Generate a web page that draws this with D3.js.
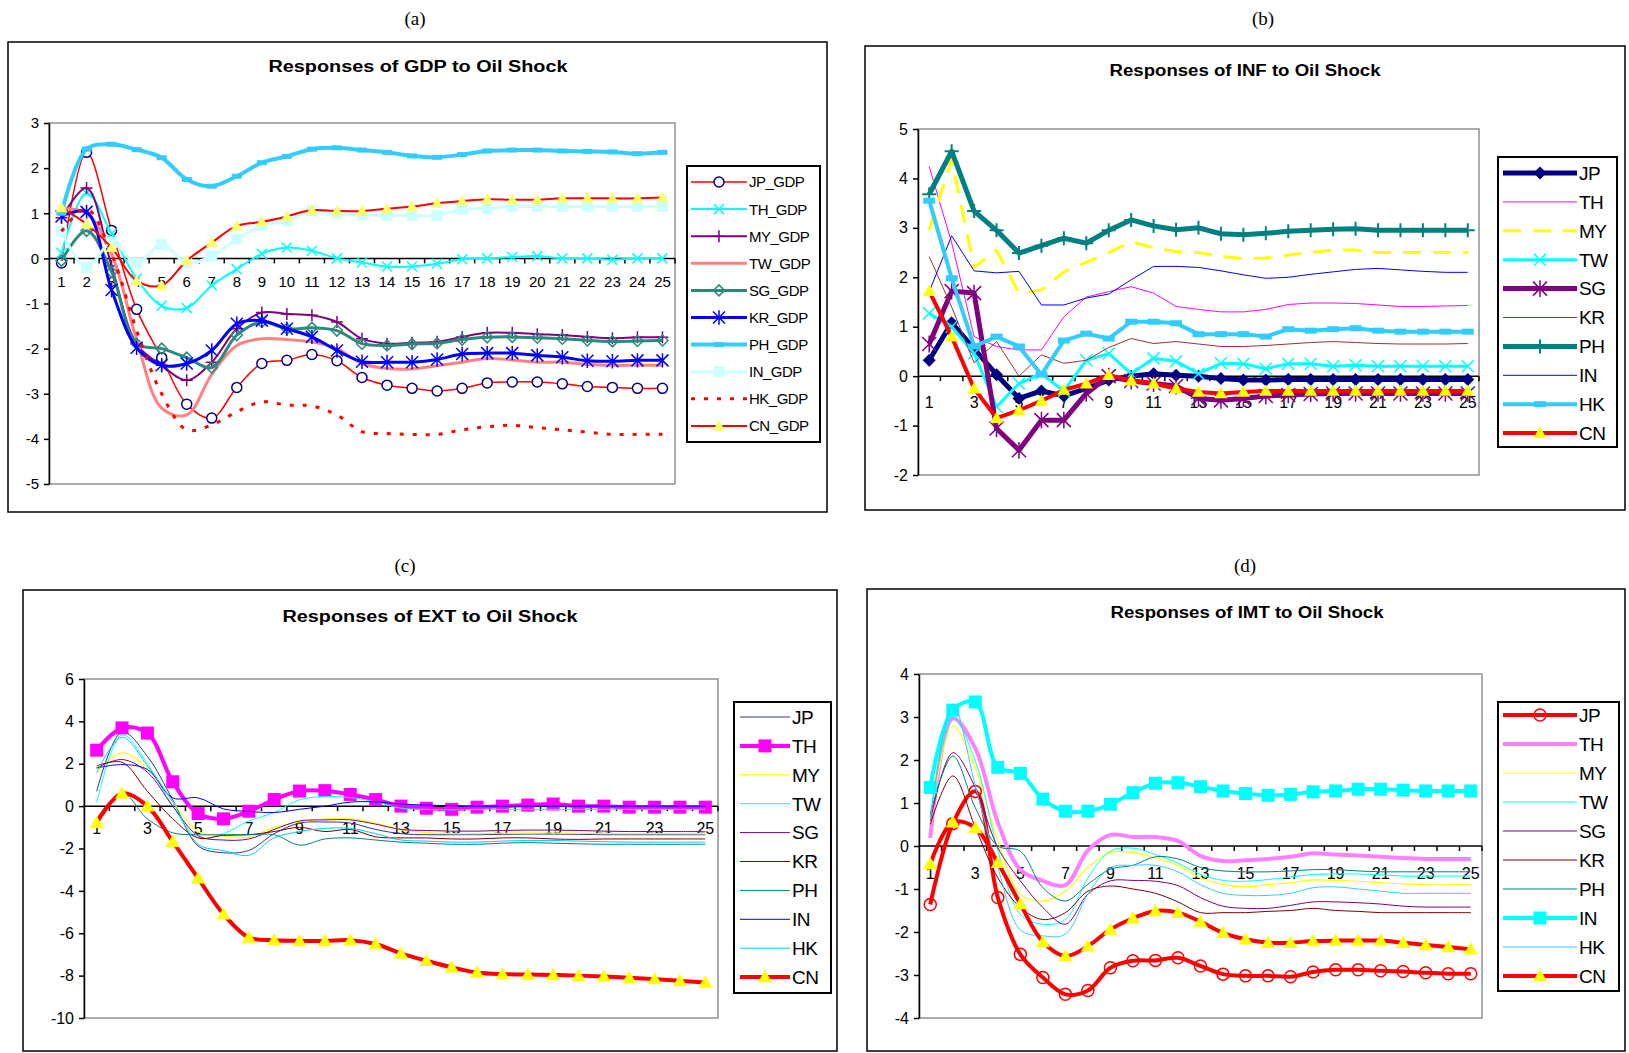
<!DOCTYPE html>
<html>
<head>
<meta charset="utf-8">
<script src="https://cdn.jsdelivr.net/npm/d3@7"></script>
<style>
  body { margin: 0; background: #fff; }
  text { font-family: "Liberation Sans", Arial, sans-serif; fill: #000; }
</style>
</head>
<body>
<svg width="1629" height="1053"></svg>
<script>

const periods = d3.range(1, 26)
const countries = ["JP", "TH", "MY", "TW", "SG", "KR", "PH", "IN", "HK", "CN"]

// (a) GDP responses
const gdpJP = [-0.1, 2.35, 0.62, -1.13, -2.2, -3.23, -3.54, -2.86, -2.33, -2.26, -2.13, -2.27, -2.64, -2.81, -2.88, -2.94, -2.88, -2.76, -2.74, -2.74, -2.78, -2.84, -2.86, -2.88, -2.88]
const gdpTH = [0.12, 1.45, 0.55, -0.45, -1.05, -1.1, -0.6, -0.24, 0.1, 0.24, 0.17, 0.0, -0.09, -0.18, -0.18, -0.12, -0.02, 0.0, 0.03, 0.05, 0.0, 0.0, -0.03, 0.0, 0.0]
const gdpMY = [0.9, 1.56, -0.17, -1.9, -2.37, -2.7, -2.3, -1.56, -1.2, -1.23, -1.26, -1.41, -1.78, -1.89, -1.87, -1.85, -1.74, -1.65, -1.65, -1.68, -1.7, -1.74, -1.77, -1.75, -1.75]
const gdpTW = [1.1, 1.0, 0.1, -1.8, -3.32, -3.47, -2.57, -1.93, -1.78, -1.8, -1.85, -2.0, -2.33, -2.44, -2.45, -2.38, -2.3, -2.22, -2.25, -2.3, -2.3, -2.35, -2.37, -2.37, -2.37]
const gdpSG = [-0.05, 0.61, -0.3, -1.89, -2.0, -2.2, -2.42, -1.7, -1.41, -1.56, -1.54, -1.6, -1.89, -1.93, -1.9, -1.88, -1.8, -1.75, -1.74, -1.76, -1.78, -1.82, -1.84, -1.83, -1.82]
const gdpKR = [0.93, 1.03, -0.7, -1.98, -2.37, -2.33, -2.04, -1.45, -1.38, -1.56, -1.74, -2.04, -2.29, -2.3, -2.3, -2.24, -2.12, -2.1, -2.1, -2.15, -2.19, -2.27, -2.28, -2.26, -2.26]
const gdpPH = [1.0, 2.42, 2.53, 2.41, 2.23, 1.75, 1.6, 1.82, 2.12, 2.26, 2.42, 2.45, 2.4, 2.35, 2.27, 2.24, 2.3, 2.38, 2.4, 2.4, 2.38, 2.37, 2.36, 2.32, 2.35]
const gdpIN = [0.6, -0.2, 0.35, -0.1, 0.31, -0.1, 0.05, 0.43, 0.72, 0.83, 1.05, 1.0, 0.96, 0.95, 0.95, 0.95, 1.09, 1.1, 1.15, 1.15, 1.15, 1.15, 1.15, 1.15, 1.15]
const gdpHK = [0.6, 1.1, 0.1, -1.6, -3.0, -3.8, -3.69, -3.4, -3.18, -3.25, -3.27, -3.47, -3.84, -3.88, -3.9, -3.9, -3.8, -3.73, -3.7, -3.75, -3.8, -3.85, -3.9, -3.9, -3.9]
const gdpCN = [1.12, 0.76, 0.24, -0.5, -0.6, -0.05, 0.35, 0.72, 0.81, 0.93, 1.07, 1.05, 1.05, 1.1, 1.15, 1.22, 1.27, 1.31, 1.3, 1.3, 1.33, 1.33, 1.33, 1.33, 1.35]

// (b) INF responses
const infJP = [0.32, 1.08, 0.55, 0.03, -0.45, -0.3, -0.4, -0.25, -0.08, 0.0, 0.05, 0.02, 0.0, -0.05, -0.08, -0.08, -0.07, -0.07, -0.07, -0.07, -0.07, -0.07, -0.07, -0.07, -0.07]
const infTH = [4.24, 2.7, 0.8, 0.6, 0.53, 0.53, 1.2, 1.6, 1.71, 1.81, 1.68, 1.41, 1.35, 1.3, 1.3, 1.35, 1.45, 1.48, 1.48, 1.47, 1.44, 1.41, 1.41, 1.42, 1.43]
const infMY = [2.96, 4.38, 2.2, 2.55, 1.68, 1.74, 2.11, 2.3, 2.5, 2.72, 2.6, 2.52, 2.5, 2.42, 2.38, 2.39, 2.45, 2.5, 2.55, 2.55, 2.5, 2.5, 2.5, 2.5, 2.5]
const infTW = [1.27, 1.0, 0.46, -0.62, -0.15, 0.05, -0.3, 0.32, 0.46, 0.05, 0.36, 0.3, 0.05, 0.26, 0.25, 0.15, 0.25, 0.25, 0.2, 0.22, 0.2, 0.2, 0.2, 0.2, 0.2]
const infSG = [0.65, 1.72, 1.68, -1.06, -1.5, -0.89, -0.89, -0.35, 0.0, -0.1, -0.15, -0.2, -0.45, -0.49, -0.45, -0.4, -0.38, -0.36, -0.35, -0.35, -0.35, -0.35, -0.35, -0.35, -0.35]
const infKR = [2.42, 1.4, 0.27, 0.7, 0.0, 0.43, 0.26, 0.32, 0.58, 0.76, 0.66, 0.7, 0.65, 0.6, 0.6, 0.62, 0.65, 0.68, 0.7, 0.68, 0.66, 0.65, 0.65, 0.65, 0.66]
const infPH = [3.68, 4.55, 3.34, 2.95, 2.49, 2.64, 2.79, 2.69, 2.95, 3.16, 3.04, 2.96, 3.0, 2.88, 2.86, 2.89, 2.93, 2.95, 2.97, 2.98, 2.95, 2.95, 2.95, 2.95, 2.95]
const infIN = [1.71, 2.84, 2.13, 2.09, 2.12, 1.44, 1.44, 1.58, 1.66, 1.95, 2.22, 2.22, 2.2, 2.13, 2.05, 1.98, 2.0, 2.06, 2.11, 2.16, 2.18, 2.15, 2.12, 2.1, 2.1]
const infHK = [3.55, 1.98, 0.6, 0.8, 0.6, 0.03, 0.72, 0.86, 0.76, 1.1, 1.1, 1.07, 0.85, 0.85, 0.85, 0.8, 0.95, 0.92, 0.95, 0.97, 0.92, 0.9, 0.9, 0.9, 0.9]
const infCN = [1.72, 0.8, -0.25, -0.85, -0.69, -0.5, -0.28, -0.15, 0.02, -0.09, -0.15, -0.25, -0.32, -0.35, -0.32, -0.3, -0.3, -0.3, -0.3, -0.3, -0.3, -0.3, -0.3, -0.3, -0.3]

// (c) EXT responses
const extJP = [0.7, 3.5, 2.35, 0.3, -1.88, -2.2, -2.09, -1.3, -0.8, -0.75, -0.8, -1.1, -1.3, -1.35, -1.35, -1.35, -1.33, -1.32, -1.32, -1.33, -1.35, -1.35, -1.35, -1.35, -1.35]
const extTH = [2.64, 3.69, 3.45, 1.15, -0.35, -0.6, -0.24, 0.31, 0.71, 0.73, 0.55, 0.31, 0.0, -0.1, -0.15, -0.05, 0.0, 0.05, 0.1, 0.0, 0.0, -0.05, -0.05, -0.05, -0.05]
const extMY = [1.6, 2.51, 1.8, 0.2, -1.2, -1.4, -1.46, -1.0, -0.75, -0.6, -0.6, -0.8, -1.1, -1.25, -1.3, -1.3, -1.28, -1.27, -1.27, -1.28, -1.3, -1.3, -1.3, -1.3, -1.3]
const extTW = [0.16, 3.37, 2.0, 0.0, -1.5, -1.3, -0.7, -0.3, 0.3, 0.45, 0.4, 0.2, -0.1, -0.15, -0.18, -0.15, -0.15, -0.15, -0.15, -0.15, -0.15, -0.15, -0.15, -0.15, -0.15]
const extSG = [1.8, 2.2, 1.6, 0.0, -1.4, -1.6, -1.55, -1.1, -0.7, -0.65, -0.65, -0.85, -1.1, -1.15, -1.18, -1.18, -1.15, -1.13, -1.13, -1.15, -1.18, -1.2, -1.2, -1.2, -1.2]
const extKR = [1.9, 2.07, 0.7, -0.6, -1.5, -1.38, -1.35, -1.2, -1.0, -1.2, -1.1, -1.45, -1.5, -1.5, -1.55, -1.55, -1.5, -1.5, -1.55, -1.57, -1.55, -1.55, -1.55, -1.55, -1.55]
const extPH = [-0.6, 0.63, -0.6, -1.26, -1.35, -1.35, -1.35, -1.35, -1.84, -1.55, -1.5, -1.6, -1.7, -1.75, -1.8, -1.8, -1.75, -1.72, -1.75, -1.78, -1.8, -1.8, -1.8, -1.8, -1.8]
const extIN = [1.8, 1.96, 1.73, 0.39, 0.39, -0.13, -0.25, -0.3, -0.15, 0.0, 0.19, 0.2, 0.1, 0.05, 0.02, 0.0, 0.0, 0.0, 0.0, 0.0, 0.0, 0.0, 0.0, 0.0, 0.0]
const extHK = [1.57, 3.25, 1.9, 0.2, -1.8, -2.1, -2.32, -1.5, -1.2, -1.05, -1.05, -1.3, -1.6, -1.65, -1.7, -1.7, -1.65, -1.62, -1.62, -1.65, -1.68, -1.7, -1.7, -1.7, -1.7]
const extCN = [-0.78, 0.6, 0.0, -1.68, -3.41, -5.1, -6.2, -6.33, -6.36, -6.36, -6.33, -6.51, -6.95, -7.3, -7.61, -7.85, -7.93, -7.95, -7.97, -8.0, -8.04, -8.1, -8.16, -8.25, -8.32]

// (d) IMT responses
const imtJP = [-1.36, 0.52, 1.27, -1.2, -2.52, -3.06, -3.45, -3.36, -2.83, -2.67, -2.66, -2.6, -2.79, -2.98, -3.02, -3.02, -3.04, -2.93, -2.88, -2.88, -2.9, -2.92, -2.95, -2.97, -2.97]
const imtTH = [0.19, 2.97, 2.27, 0.55, -0.55, -0.81, -0.91, -0.1, 0.26, 0.21, 0.21, 0.12, -0.23, -0.35, -0.33, -0.3, -0.25, -0.17, -0.2, -0.22, -0.25, -0.28, -0.3, -0.3, -0.3]
const imtMY = [0.5, 2.79, 1.82, 0.12, -1.12, -1.28, -1.05, -0.5, -0.15, -0.15, -0.28, -0.45, -0.74, -0.9, -0.95, -0.9, -0.85, -0.79, -0.8, -0.82, -0.85, -0.88, -0.9, -0.9, -0.9]
const imtTW = [0.7, 2.98, 1.98, -0.1, -1.59, -1.82, -1.71, -0.74, -0.12, -0.05, -0.2, -0.4, -0.66, -0.8, -0.82, -0.78, -0.72, -0.66, -0.65, -0.65, -0.67, -0.7, -0.7, -0.7, -0.7]
const imtSG = [0.58, 2.17, 1.36, -0.04, -0.81, -1.43, -1.82, -1.12, -0.81, -0.8, -0.82, -0.92, -1.2, -1.4, -1.45, -1.45, -1.38, -1.3, -1.3, -1.32, -1.35, -1.4, -1.42, -1.42, -1.42]
const imtKR = [0.5, 1.63, 0.43, -0.74, -1.43, -1.71, -1.55, -1.05, -0.93, -1.0, -1.1, -1.3, -1.55, -1.55, -1.55, -1.52, -1.5, -1.45, -1.5, -1.52, -1.55, -1.55, -1.55, -1.55, -1.55]
const imtPH = [0.74, 2.09, 0.89, 0.0, -0.12, -0.97, -1.28, -0.89, -0.54, -0.45, -0.25, -0.3, -0.5, -0.58, -0.6, -0.6, -0.58, -0.55, -0.55, -0.58, -0.6, -0.6, -0.6, -0.6, -0.6]
const imtIN = [1.36, 3.16, 3.35, 1.83, 1.69, 1.09, 0.81, 0.81, 0.97, 1.24, 1.46, 1.47, 1.38, 1.28, 1.22, 1.18, 1.2, 1.26, 1.28, 1.32, 1.32, 1.3, 1.28, 1.28, 1.28]
const imtHK = [0.6, 3.3, 1.4, -0.5, -1.95, -2.09, -2.05, -1.12, -0.5, -0.45, -0.45, -0.6, -0.9, -1.1, -1.15, -1.15, -1.1, -0.97, -0.95, -1.0, -1.05, -1.1, -1.1, -1.1, -1.1]
const imtCN = [-0.42, 0.55, 0.42, -0.39, -1.35, -2.23, -2.56, -2.33, -1.94, -1.68, -1.51, -1.55, -1.76, -2.02, -2.17, -2.25, -2.25, -2.21, -2.2, -2.2, -2.2, -2.25, -2.3, -2.35, -2.4]

const gdpTicks = d3.range(-5, 4)
const infTicks = d3.range(-2, 6)
const extTicks = d3.range(-10, 7, 2)
const imtTicks = d3.range(-4, 5)


// series look, in legend order
const gdpLook = [
    {color: "#FF0000", w: 1.5, marker: "circle", ms: 5, mstroke: "#000080", mfill: "#fff", mw: 1.5},
    {color: "#00FFFF", w: 2, marker: "x", ms: 5, mstroke: "#00FFFF", mw: 1.5},
    {color: "#800080", w: 2, marker: "plus", ms: 6, mstroke: "#800080", mw: 1.5},
    {color: "#FF8080", w: 3},
    {color: "#2A8A7E", w: 3, marker: "diamond", ms: 5.5, mstroke: "#2A8A7E", mfill: "none", mw: 1.5},
    {color: "#0000FF", w: 3, marker: "star", ms: 6, mstroke: "#0000FF", mw: 1.5},
    {color: "#33CCFF", w: 4, marker: "dash", ms: 5, mstroke: "#33CCFF", mw: 5},
    {color: "#CCFFFF", w: 3, marker: "square", ms: 5.5, mfill: "#CCFFFF"},
    {color: "#FF0000", w: 3, dash: "4,9"},
    {color: "#FF0000", w: 2, marker: "triangle", ms: 6, mfill: "#FFFF66"}
]
const infLook = [
    {color: "#000080", w: 5, marker: "diamond", ms: 6.5, mfill: "#000080"},
    {color: "#FF00FF", w: 1},
    {color: "#FFFF00", w: 3, dash: "18,12"},
    {color: "#00FFFF", w: 3, marker: "x", ms: 6, mstroke: "#00FFFF", mw: 1.5},
    {color: "#800080", w: 5, marker: "star", ms: 7, mstroke: "#800080", mw: 1.5},
    {color: "#993333", w: 1},
    {color: "#008080", w: 5, marker: "plus", ms: 7, mstroke: "#008080", mw: 2},
    {color: "#0000FF", w: 1},
    {color: "#33CCFF", w: 4, marker: "dash", ms: 6, mstroke: "#33CCFF", mw: 6},
    {color: "#FF0000", w: 4, marker: "triangle", ms: 6.5, mfill: "#FFFF00"}
]
const extLook = [
    {color: "#333399", w: 1},
    {color: "#FF00FF", w: 4, marker: "square", ms: 6.5, mfill: "#FF00FF"},
    {color: "#FFFF00", w: 1.2},
    {color: "#00FFFF", w: 1},
    {color: "#800080", w: 1},
    {color: "#800000", w: 1},
    {color: "#008080", w: 1},
    {color: "#0000FF", w: 1},
    {color: "#00CCFF", w: 1},
    {color: "#FF0000", w: 4, marker: "triangle", ms: 7, mfill: "#FFFF00"}
]
const imtLook = [
    {color: "#FF0000", w: 4, marker: "circle", ms: 6, mstroke: "#FF0000", mfill: "none", mw: 1.5},
    {color: "#FF80FF", w: 4},
    {color: "#FFFF00", w: 1.2},
    {color: "#00FFFF", w: 1},
    {color: "#800080", w: 1},
    {color: "#800000", w: 1},
    {color: "#008080", w: 1},
    {color: "#00FFFF", w: 4, marker: "square", ms: 6.5, mfill: "#00FFFF"},
    {color: "#33CCFF", w: 1},
    {color: "#FF0000", w: 4, marker: "triangle", ms: 7, mfill: "#FFFF00"}
]

const smooth = d3.curveCatmullRom.alpha(0.5)

let panels = [
    {label: "(a)", labelPos: [415, 25], frame: [8, 42, 827, 512], plot: [49, 123, 675, 484],
     domain: [-5, 3], ticks: gdpTicks, title: "Responses of GDP to Oil Shock", titlePos: [418, 72, 299],
     values: [gdpJP, gdpTH, gdpMY, gdpTW, gdpSG, gdpKR, gdpPH, gdpIN, gdpHK, gdpCN], look: gdpLook, suffix: "_GDP",
     legend: {box: [687, 166, 820, 442], row0: 182, step: 27.1, line: [691, 747], font: 15},
     xDy: 29, every: 1, curve: smooth, fs: 15},
    {label: "(b)", labelPos: [1263, 25], frame: [865, 46, 1625, 510], plot: [918, 129, 1479, 475],
     domain: [-2, 5], ticks: infTicks, title: "Responses of INF to Oil Shock", titlePos: [1245, 76, 271],
     values: [infJP, infTH, infMY, infTW, infSG, infKR, infPH, infIN, infHK, infCN], look: infLook, suffix: "",
     legend: {box: [1498, 157, 1617, 447], row0: 173, step: 28.9, line: [1503, 1577], font: 19},
     xDy: 32, every: 2, curve: d3.curveLinear, fs: 16},
    {label: "(c)", labelPos: [405, 572], frame: [23, 590, 837, 1051], plot: [84, 679, 718, 1018],
     domain: [-10, 6], ticks: extTicks, title: "Responses of EXT to Oil Shock", titlePos: [430, 622, 295],
     values: [extJP, extTH, extMY, extTW, extSG, extKR, extPH, extIN, extHK, extCN], look: extLook, suffix: "",
     legend: {box: [734, 702, 831, 993], row0: 717, step: 28.9, line: [740, 790], font: 19},
     xDy: 28, every: 2, curve: smooth, fs: 16},
    {label: "(d)", labelPos: [1245, 572], frame: [867, 589, 1625, 1051], plot: [919, 674, 1482, 1018],
     domain: [-4, 4], ticks: imtTicks, title: "Responses of IMT to Oil Shock", titlePos: [1247, 618, 273],
     values: [imtJP, imtTH, imtMY, imtTW, imtSG, imtKR, imtPH, imtIN, imtHK, imtCN], look: imtLook, suffix: "",
     legend: {box: [1498, 702, 1619, 991], row0: 715, step: 29, line: [1503, 1577], font: 19},
     xDy: 33, every: 2, curve: smooth, fs: 16}
]


function markerPath(type, s){
    if(type == "circle")
        return `M${-s},0A${s},${s} 0 1,0 ${s},0A${s},${s} 0 1,0 ${-s},0Z`
    if(type == "square")
        return `M${-s},${-s}h${2*s}v${2*s}h${-2*s}Z`
    if(type == "triangle")
        return `M0,${-s}L${s},${s*0.75}L${-s},${s*0.75}Z`
    if(type == "diamond")
        return `M0,${-s}L${s},0L0,${s}L${-s},0Z`
    if(type == "x")
        return `M${-s},${-s}L${s},${s}M${-s},${s}L${s},${-s}`
    if(type == "plus")
        return `M${-s},0L${s},0M0,${-s}L0,${s}`
    if(type == "star")
        return `M${-s},${-s}L${s},${s}M${-s},${s}L${s},${-s}M0,${-s*1.2}L0,${s*1.2}`
    return `M${-s},0L${s},0`
}

function styleMarker(sel, lk){
    sel.attr("d", markerPath(lk.marker, lk.ms))
        .attr("fill", lk.mfill || "none")
        .attr("stroke", lk.mstroke || "none")
        .attr("stroke-width", lk.mw || 0)
}

function drawPanel(p){
    let svg = d3.select("svg")
    let g = svg.append("g")

    g.append("rect")
        .attr("x", p.frame[0]).attr("y", p.frame[1])
        .attr("width", p.frame[2] - p.frame[0]).attr("height", p.frame[3] - p.frame[1])
        .attr("fill", "#fff").attr("stroke", "#000").attr("stroke-width", 1.5)

    g.append("text")
        .attr("x", p.labelPos[0]).attr("y", p.labelPos[1])
        .attr("text-anchor", "middle")
        .style("font-family", "'Liberation Serif', 'Times New Roman', serif")
        .style("font-size", "19px")
        .text(p.label)

    g.append("text")
        .attr("x", p.titlePos[0] - p.titlePos[2] / 2).attr("y", p.titlePos[1])
        .attr("textLength", p.titlePos[2]).attr("lengthAdjust", "spacingAndGlyphs")
        .style("font-size", "16px").style("font-weight", "bold")
        .text(p.title)

    let x = d3.scaleBand().domain(periods).range([p.plot[0], p.plot[2]])
    let y = d3.scaleLinear().domain(p.domain).range([p.plot[3], p.plot[1]])
    let cx = d => x(d) + x.bandwidth() / 2

    g.append("rect")
        .attr("x", p.plot[0]).attr("y", p.plot[1])
        .attr("width", p.plot[2] - p.plot[0]).attr("height", p.plot[3] - p.plot[1])
        .attr("fill", "#fff").attr("stroke", "#909090").attr("stroke-width", 1.5)

    // plain hyphen minus like the original
    let yAxis = g.append("g")
        .attr("transform", `translate(${p.plot[0]},0)`)
        .call(d3.axisLeft(y).tickValues(p.ticks).tickFormat(d => String(d))
            .tickSize(5).tickSizeOuter(0).tickPadding(5))
    yAxis.select(".domain").attr("stroke-width", 1.5)
    yAxis.selectAll(".tick line").attr("stroke-width", 1.5)
    yAxis.selectAll("text").style("font-size", p.fs + "px").style("font-family", "'Liberation Sans', Arial, sans-serif")

    // category axis sits on the zero line
    let y0 = y(0)
    g.append("line")
        .attr("x1", p.plot[0]).attr("x2", p.plot[2])
        .attr("y1", y0).attr("y2", y0)
        .attr("stroke", "#000").attr("stroke-width", 1.5)
    let bounds = periods.slice(1).map(d => x(d)).concat([p.plot[2]])
    g.selectAll(".xtick").data(bounds).join("line")
        .attr("x1", d => d).attr("x2", d => d)
        .attr("y1", y0).attr("y2", y0 + 5)
        .attr("stroke", "#000").attr("stroke-width", 1.5)
    g.selectAll(".xlab").data(periods.filter(d => (d - 1) % p.every == 0)).join("text")
        .attr("x", cx).attr("y", y0 + p.xDy)
        .attr("text-anchor", "middle")
        .style("font-size", p.fs + "px")
        .text(d => d)

    let line = d3.line()
        .x((d, i) => cx(periods[i]))
        .y(d => y(d))
        .curve(p.curve)

    p.values.forEach((vals, k) => {
        let lk = p.look[k]
        g.append("path")
            .attr("d", line(vals))
            .attr("fill", "none")
            .attr("stroke", lk.color)
            .attr("stroke-width", lk.w)
            .attr("stroke-dasharray", lk.dash || null)
            .attr("stroke-linejoin", "round")
        if(lk.marker){
            g.append("g").selectAll("path").data(vals).join("path")
                .attr("transform", (d, i) => `translate(${cx(periods[i])},${y(d)})`)
                .call(styleMarker, lk)
        }
    })

    let lg = p.legend
    g.append("rect")
        .attr("x", lg.box[0]).attr("y", lg.box[1])
        .attr("width", lg.box[2] - lg.box[0]).attr("height", lg.box[3] - lg.box[1])
        .attr("fill", "#fff").attr("stroke", "#000").attr("stroke-width", 2)

    countries.forEach((c, k) => {
        let lk = p.look[k]
        let ry = lg.row0 + k * lg.step
        g.append("line")
            .attr("x1", lg.line[0]).attr("x2", lg.line[1])
            .attr("y1", ry).attr("y2", ry)
            .attr("stroke", lk.color)
            .attr("stroke-width", lk.w)
            .attr("stroke-dasharray", lk.dash || null)
        if(lk.marker){
            g.append("path")
                .attr("transform", `translate(${(lg.line[0] + lg.line[1]) / 2},${ry})`)
                .call(styleMarker, lk)
        }
        g.append("text")
            .attr("x", lg.line[1] + 2).attr("y", ry)
            .attr("dy", "0.36em")
            .style("font-size", lg.font + "px")
            .style("letter-spacing", "-0.5px")
            .text(c + p.suffix)
    })
}

for(let p of panels){
    drawPanel(p)
}

</script>
</body>
</html>
